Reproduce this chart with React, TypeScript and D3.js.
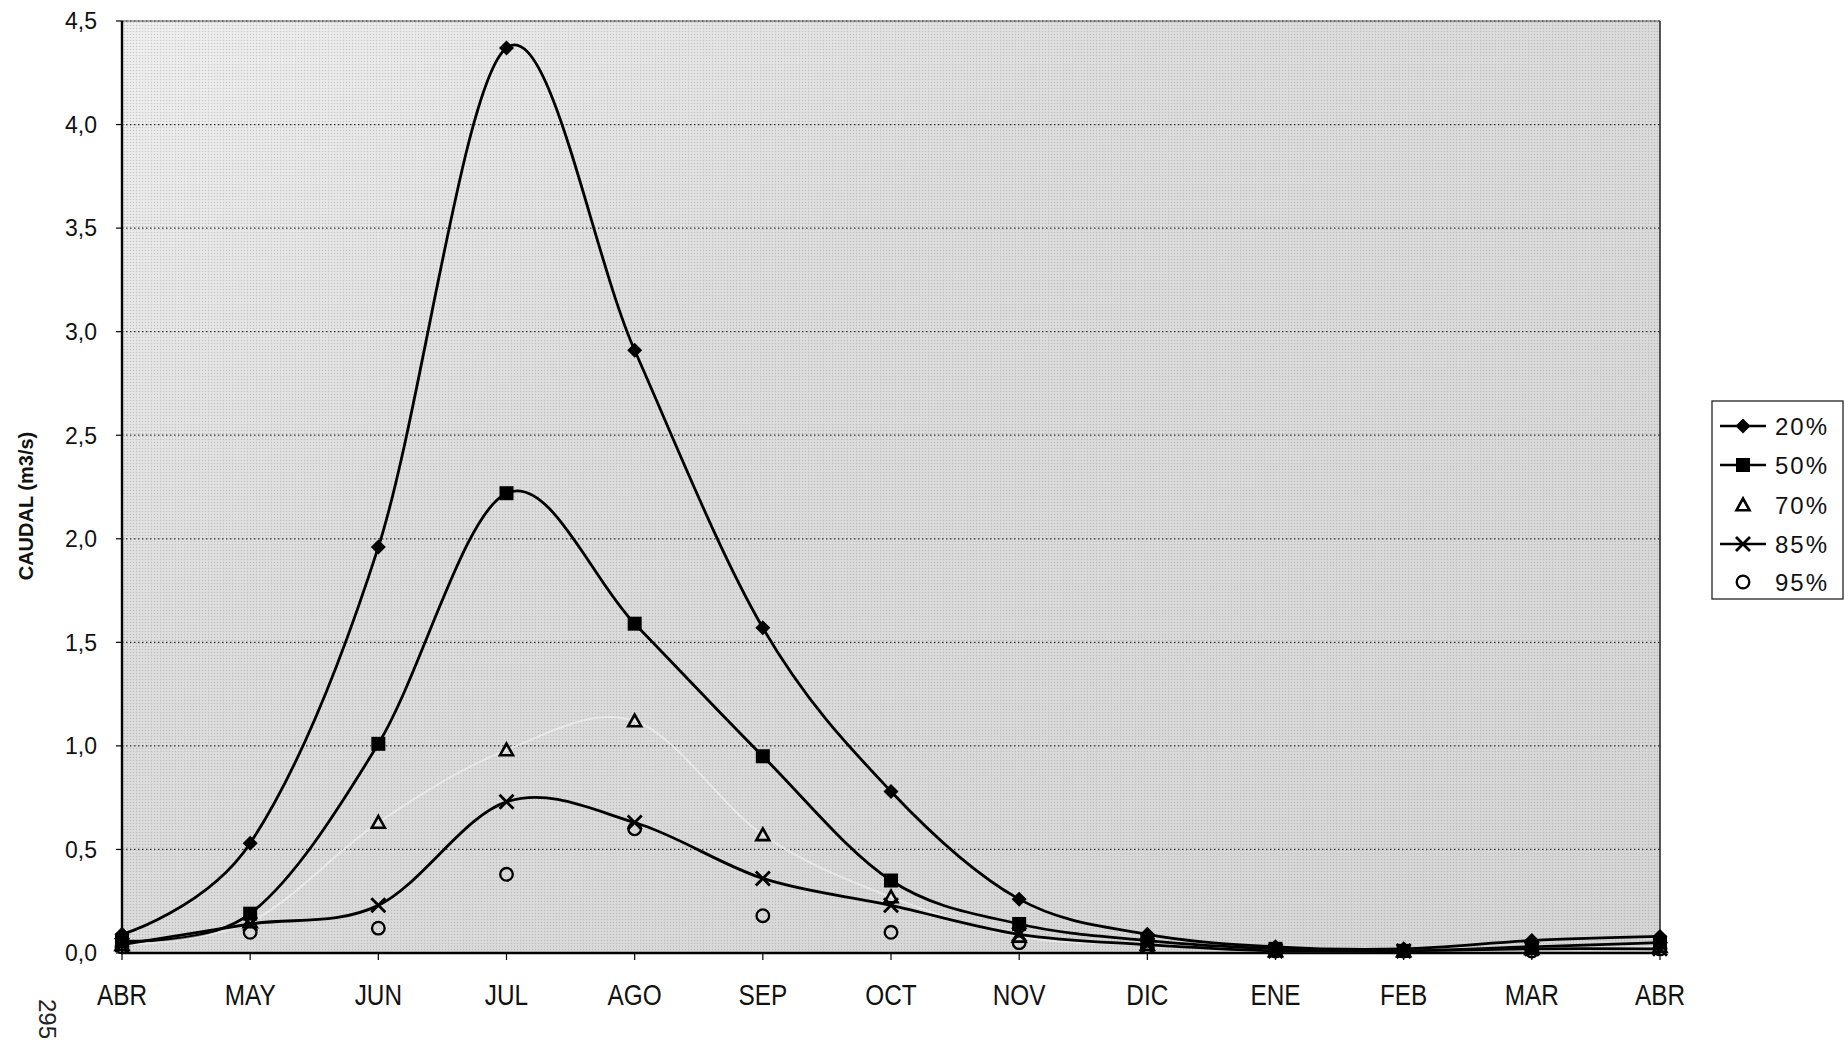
import React from "react";
import * as d3 from "d3";

const months = ["ABR", "MAY", "JUN", "JUL", "AGO", "SEP", "OCT", "NOV", "DIC", "ENE", "FEB", "MAR", "ABR"];
const yTicks = [0, 0.5, 1, 1.5, 2, 2.5, 3, 3.5, 4, 4.5];

const s20 = [0.09, 0.53, 1.96, 4.37, 2.91, 1.57, 0.78, 0.26, 0.09, 0.03, 0.02, 0.06, 0.08];
const s50 = [0.06, 0.19, 1.01, 2.22, 1.59, 0.95, 0.35, 0.14, 0.06, 0.02, 0.01, 0.03, 0.05];
const s70 = [0.04, 0.15, 0.63, 0.98, 1.12, 0.57, 0.27, 0.08, 0.04, 0.01, 0.01, 0.02, 0.03];
const s85 = [0.04, 0.14, 0.23, 0.73, 0.63, 0.36, 0.23, 0.09, 0.04, 0.01, 0.01, 0.02, 0.02];
const s95 = [0.03, 0.10, 0.12, 0.38, 0.60, 0.18, 0.10, 0.05, 0.03, 0.01, 0.01, 0.01, 0.02];

const seriesNames = ["20%", "50%", "70%", "85%", "95%"];

const W = 1845;
const H = 1043;
const X0 = 122;
const X1 = 1660;
const Y0 = 953;
const Y1 = 21;

type Kind = "diamond" | "square" | "triangle" | "cross" | "circle";

function Marker({ kind, x, y }: { kind: Kind; x: number; y: number }) {
  if (kind === "diamond") {
    const s = 7.5;
    return <path d={`M${x},${y - s}L${x + s},${y}L${x},${y + s}L${x - s},${y}Z`} fill="#000" />;
  }
  if (kind === "square") {
    const s = 7;
    return <rect x={x - s} y={y - s} width={2 * s} height={2 * s} fill="#000" />;
  }
  if (kind === "triangle") {
    const s = 6.5;
    return (
      <path
        d={`M${x},${y - s}L${x + s},${y + s * 0.8}L${x - s},${y + s * 0.8}Z`}
        fill="none"
        stroke="#000"
        strokeWidth={2.6}
      />
    );
  }
  if (kind === "cross") {
    const s = 7;
    return (
      <path
        d={`M${x - s},${y - s}L${x + s},${y + s}M${x - s},${y + s}L${x + s},${y - s}`}
        stroke="#000"
        strokeWidth={2.8}
      />
    );
  }
  return <circle cx={x} cy={y} r={6.3} fill="none" stroke="#000" strokeWidth={2.3} />;
}

export default function App() {
  const x = d3.scalePoint<number>().domain(d3.range(months.length)).range([X0, X1]);
  const y = d3.scaleLinear().domain([0, 4.5]).range([Y0, Y1]);

  const line = d3
    .line<number>()
    .x((_, i) => x(i) as number)
    .y((d) => y(d))
    .curve(d3.curveCardinal.tension(0));

  const series: { name: string; data: number[]; kind: Kind; line: "black" | "white" | "none" }[] = [
    { name: seriesNames[0], data: s20, kind: "diamond", line: "black" },
    { name: seriesNames[1], data: s50, kind: "square", line: "black" },
    { name: seriesNames[2], data: s70, kind: "triangle", line: "white" },
    { name: seriesNames[3], data: s85, kind: "cross", line: "black" },
    { name: seriesNames[4], data: s95, kind: "circle", line: "none" },
  ];

  const legendYs = [426, 465, 505, 544, 582];

  return (
    <svg
      width={W}
      height={H}
      style={{ position: "absolute", left: 0, top: 0, background: "#fff" }}
      fontFamily="'Liberation Sans', Arial, sans-serif"
    >
      <defs>
        <linearGradient id="bg" x1="0" y1="0" x2="1" y2="1">
          <stop offset="0" stopColor="#f0f0f0" />
          <stop offset="0.35" stopColor="#dedede" />
          <stop offset="1" stopColor="#d6d6d6" />
        </linearGradient>
        <pattern id="dots" width={3} height={3} patternUnits="userSpaceOnUse">
          <circle cx={1.5} cy={1.5} r={0.75} fill="#6f6f6f" />
        </pattern>
      </defs>

      {/* plot background */}
      <rect x={X0} y={Y1} width={X1 - X0} height={Y0 - Y1} fill="url(#bg)" />
      <rect x={X0} y={Y1} width={X1 - X0} height={Y0 - Y1} fill="url(#dots)" opacity={0.3} />

      {/* gridlines */}
      {yTicks
        .filter((t) => t > 0)
        .map((t) => (
          <line
            key={t}
            x1={X0}
            x2={X1}
            y1={y(t)}
            y2={y(t)}
            stroke="#333"
            strokeWidth={1.2}
            strokeDasharray="1.5,2.5"
          />
        ))}

      {/* frame */}
      <line x1={X0} x2={X1} y1={Y1} y2={Y1} stroke="#555" strokeWidth={1} />
      <line x1={X1} x2={X1} y1={Y1} y2={Y0} stroke="#222" strokeWidth={1.5} />
      <line x1={X0} x2={X0} y1={Y1} y2={Y0} stroke="#000" strokeWidth={2.4} />
      <line x1={X0} x2={X1} y1={Y0} y2={Y0} stroke="#000" strokeWidth={2.4} />

      {/* y axis ticks and labels */}
      {yTicks.map((t) => (
        <g key={t}>
          <line x1={X0 - 6} x2={X0} y1={y(t)} y2={y(t)} stroke="#000" strokeWidth={1.2} />
          <text x={97} y={y(t)} dy="0.36em" textAnchor="end" fontSize={23} fill="#111">
            {t.toFixed(1).replace(".", ",")}
          </text>
        </g>
      ))}

      {/* x axis ticks and labels */}
      {months.map((m, i) => (
        <g key={i}>
          <line x1={x(i)} x2={x(i)} y1={Y0} y2={Y0 + 7} stroke="#000" strokeWidth={1.2} />
          <text
            transform={`translate(${x(i)},1005) scale(0.84,1)`}
            textAnchor="middle"
            fontSize={29}
            fill="#111"
          >
            {m}
          </text>
        </g>
      ))}

      {/* axis title */}
      <text
        transform="translate(33,506) rotate(-90)"
        textAnchor="middle"
        fontSize={20}
        fontWeight="bold"
        fill="#111"
      >
        CAUDAL (m3/s)
      </text>

      {/* page number */}
      <text transform="translate(39,999) rotate(90)" fontSize={24} fill="#222">
        295
      </text>

      {/* lines */}
      {series.map((s) =>
        s.line === "none" ? null : (
          <path
            key={s.name}
            d={line(s.data) || ""}
            fill="none"
            stroke={s.line === "black" ? "#000" : "#f4f4f4"}
            strokeWidth={s.line === "black" ? 2.8 : 2}
            opacity={s.line === "black" ? 1 : 0.6}
          />
        )
      )}

      {/* markers */}
      {series.map((s) => (
        <g key={s.name}>
          {s.data.map((v, i) => (
            <Marker key={i} kind={s.kind} x={x(i) as number} y={y(v)} />
          ))}
        </g>
      ))}

      {/* legend */}
      <rect x={1712} y={401} width={131} height={198} fill="#fff" stroke="#222" strokeWidth={1.3} />
      {series.map((s, i) => (
        <g key={s.name}>
          {s.line === "black" && (
            <line x1={1720} x2={1766} y1={legendYs[i]} y2={legendYs[i]} stroke="#000" strokeWidth={2.4} />
          )}
          <Marker kind={s.kind} x={1743} y={legendYs[i]} />
          <text x={1775} y={legendYs[i]} dy="0.36em" fontSize={24} letterSpacing={2} fill="#111">
            {s.name}
          </text>
        </g>
      ))}
    </svg>
  );
}
